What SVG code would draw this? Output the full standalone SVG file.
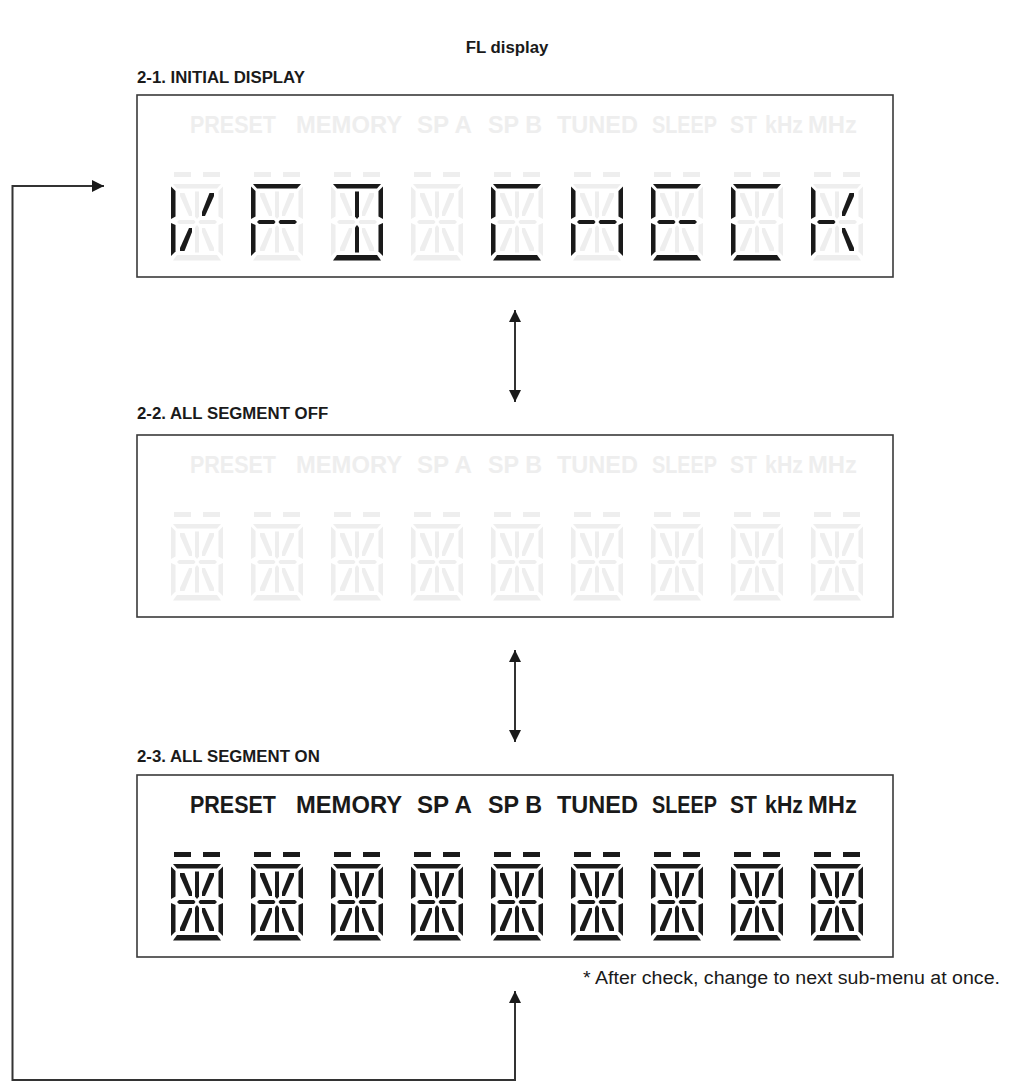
<svg xmlns="http://www.w3.org/2000/svg" xmlns:xlink="http://www.w3.org/1999/xlink" width="1014" height="1082" viewBox="0 0 1014 1082">
<style>
.title{font-family:"Liberation Sans",Arial,sans-serif;font-weight:bold;font-size:16.8px;fill:#1a1a1a}
.note{font-family:"Liberation Sans",Arial,sans-serif;font-size:18px;fill:#1a1a1a}
.ind{font-family:"Liberation Sans",Arial,sans-serif;font-weight:bold;font-size:23px}
.dim{fill:#eeeeee}
.on{fill:#1a1a1a}
.box{fill:#ffffff;stroke:#3a3a3a;stroke-width:1.6}
.conn{fill:none;stroke:#333333;stroke-width:2}
</style>
<defs>
<marker id="ah" viewBox="0 0 12 12" refX="12" refY="6" markerWidth="12" markerHeight="12" markerUnits="userSpaceOnUse" orient="auto-start-reverse">
<path d="M0,0 L12,6 L0,12 Z" fill="#1a1a1a"/>
</marker>
<rect id="s-dl" x="3" y="0" width="17" height="5"/>
<rect id="s-dr" x="32" y="0" width="17" height="5"/>
<path id="s-a" d="M2,12 H50 L46,16.5 H6 Z"/>
<path id="s-d" d="M6,83 H46 L50,88.5 H2 Z"/>
<path id="s-f" d="M0,14.5 L4.5,19 V44.5 L0,47 Z"/>
<path id="s-e" d="M0,51 L4.5,53 V79.5 L0,84 Z"/>
<path id="s-b" d="M52,14.5 L47.5,19 V44.5 L52,47 Z"/>
<path id="s-c" d="M52,51 L47.5,53 V79.5 L52,84 Z"/>
<path id="s-g1" d="M6,50 L8,48 H23 L24.5,50 L23,52 H8 Z"/>
<path id="s-g2" d="M46,50 L44,48 H29 L27.5,50 L29,52 H44 Z"/>
<path id="s-cu" d="M24,19.5 H28 V44.5 L26,47 L24,44.5 Z"/>
<path id="s-cl" d="M24,55.5 L26,53 L28,55.5 V80.5 H24 Z"/>
<path id="s-ul" d="M9,21 H13.5 L21,40 V44 H18 L9,24 Z"/>
<path id="s-ur" d="M43,21 H38.5 L31,40 V44 H34 L43,24 Z"/>
<path id="s-ll" d="M18,56 H21 V60 L13.5,79 H9 V76 Z"/>
<path id="s-lr" d="M34,56 H31 V60 L38.5,79 H43 V76 Z"/>
<g id="digit">
<use xlink:href="#s-dl"/><use xlink:href="#s-dr"/><use xlink:href="#s-a"/><use xlink:href="#s-d"/>
<use xlink:href="#s-f"/><use xlink:href="#s-e"/><use xlink:href="#s-b"/><use xlink:href="#s-c"/>
<use xlink:href="#s-g1"/><use xlink:href="#s-g2"/><use xlink:href="#s-cu"/><use xlink:href="#s-cl"/>
<use xlink:href="#s-ul"/><use xlink:href="#s-ur"/><use xlink:href="#s-ll"/><use xlink:href="#s-lr"/>
</g>
<g id="row">
<use xlink:href="#digit" x="0"/><use xlink:href="#digit" x="80"/><use xlink:href="#digit" x="160"/>
<use xlink:href="#digit" x="240"/><use xlink:href="#digit" x="320"/><use xlink:href="#digit" x="400"/>
<use xlink:href="#digit" x="480"/><use xlink:href="#digit" x="560"/><use xlink:href="#digit" x="640"/>
</g>
<g id="labels">
<text x="190" y="0" textLength="86" lengthAdjust="spacingAndGlyphs">PRESET</text>
<text x="296" y="0" textLength="106" lengthAdjust="spacingAndGlyphs">MEMORY</text>
<text x="417" y="0" textLength="55" lengthAdjust="spacingAndGlyphs">SP A</text>
<text x="488" y="0" textLength="54" lengthAdjust="spacingAndGlyphs">SP B</text>
<text x="557" y="0" textLength="81" lengthAdjust="spacingAndGlyphs">TUNED</text>
<text x="652" y="0" textLength="65" lengthAdjust="spacingAndGlyphs">SLEEP</text>
<text x="730" y="0" textLength="27" lengthAdjust="spacingAndGlyphs">ST</text>
<text x="765" y="0" textLength="38" lengthAdjust="spacingAndGlyphs">kHz</text>
<text x="808" y="0" textLength="49" lengthAdjust="spacingAndGlyphs">MHz</text>
</g>
</defs>

<text class="title" x="507" y="53" text-anchor="middle">FL display</text>

<g id="panel-initial">
<text class="title" x="137" y="83">2-1. INITIAL DISPLAY</text>
<rect class="box" x="137" y="95" width="756" height="182"/>
<use xlink:href="#labels" class="ind dim" y="133"/>
<use xlink:href="#row" class="dim" x="171" y="172"/>
<g class="on">
<g transform="translate(171,172)"><use xlink:href="#s-f"/><use xlink:href="#s-e"/><use xlink:href="#s-ur"/><use xlink:href="#s-ll"/></g>
<g transform="translate(251,172)"><use xlink:href="#s-a"/><use xlink:href="#s-f"/><use xlink:href="#s-e"/><use xlink:href="#s-g1"/><use xlink:href="#s-g2"/></g>
<g transform="translate(331,172)"><use xlink:href="#s-a"/><use xlink:href="#s-b"/><use xlink:href="#s-c"/><use xlink:href="#s-d"/><use xlink:href="#s-cu"/><use xlink:href="#s-cl"/></g>
<g transform="translate(491,172)"><use xlink:href="#s-a"/><use xlink:href="#s-f"/><use xlink:href="#s-e"/><use xlink:href="#s-d"/></g>
<g transform="translate(571,172)"><use xlink:href="#s-f"/><use xlink:href="#s-e"/><use xlink:href="#s-b"/><use xlink:href="#s-c"/><use xlink:href="#s-g1"/><use xlink:href="#s-g2"/></g>
<g transform="translate(651,172)"><use xlink:href="#s-a"/><use xlink:href="#s-f"/><use xlink:href="#s-e"/><use xlink:href="#s-d"/><use xlink:href="#s-g1"/><use xlink:href="#s-g2"/></g>
<g transform="translate(731,172)"><use xlink:href="#s-a"/><use xlink:href="#s-f"/><use xlink:href="#s-e"/><use xlink:href="#s-d"/></g>
<g transform="translate(811,172)"><use xlink:href="#s-f"/><use xlink:href="#s-e"/><use xlink:href="#s-g1"/><use xlink:href="#s-ur"/><use xlink:href="#s-lr"/></g>
</g>
</g>

<g id="panel-all-off">
<text class="title" x="137" y="419">2-2. ALL SEGMENT OFF</text>
<rect class="box" x="137" y="435" width="756" height="182"/>
<use xlink:href="#labels" class="ind dim" y="473"/>
<use xlink:href="#row" class="dim" x="171" y="512"/>
</g>

<g id="panel-all-on">
<text class="title" x="137" y="762">2-3. ALL SEGMENT ON</text>
<rect class="box" x="137" y="775" width="756" height="182"/>
<use xlink:href="#labels" class="ind on" y="813"/>
<use xlink:href="#row" class="on" x="171" y="852"/>
</g>

<text class="note" x="583" y="984" textLength="417" lengthAdjust="spacingAndGlyphs">* After check, change to next sub-menu at once.</text>

<g id="connectors">
<line class="conn" x1="515" y1="310" x2="515" y2="402" marker-start="url(#ah)" marker-end="url(#ah)"/>
<line class="conn" x1="515" y1="650" x2="515" y2="742" marker-start="url(#ah)" marker-end="url(#ah)"/>
<path class="conn" d="M515,991 V1080 H12.5 V186 H104" marker-start="url(#ah)" marker-end="url(#ah)"/>
</g>
</svg>
